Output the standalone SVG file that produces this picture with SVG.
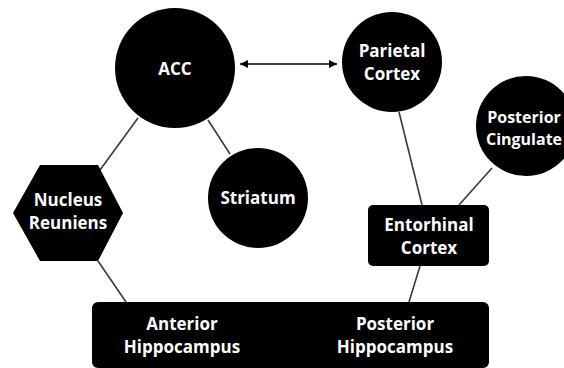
<svg xmlns="http://www.w3.org/2000/svg" width="564" height="368" viewBox="0 0 564 368">
<defs>
<marker id="ah" viewBox="0 0 10 10" refX="10" refY="5" markerWidth="8" markerHeight="8" markerUnits="userSpaceOnUse" orient="auto-start-reverse"><path d="M0,0 L10,5 L0,10 z" fill="#000"/></marker>
</defs>
<style>
.n{fill:#000}
.t{fill:#fff;font-family:"Open Sans","Liberation Sans",sans-serif;font-weight:bold;font-size:17px;text-anchor:middle}
.c{stroke:#3a3a3a;stroke-width:1.6;fill:none}
</style>
<rect width="564" height="368" fill="#fff"/>
<g id="connectors">
<line class="c" x1="138" y1="118" x2="100" y2="170"/>
<line class="c" x1="208" y1="120" x2="230" y2="154"/>
<line class="c" x1="98" y1="261" x2="126" y2="302"/>
<line class="c" x1="399" y1="112" x2="422" y2="205"/>
<line class="c" x1="492" y1="168" x2="459" y2="205"/>
<line class="c" x1="420" y1="266" x2="409" y2="302"/>
<line x1="240" y1="64" x2="337" y2="64" stroke="#000" stroke-width="1.5" marker-start="url(#ah)" marker-end="url(#ah)"/>
</g>
<g id="acc"><circle class="n" cx="175" cy="68" r="60"/><text class="t" x="175" y="75">ACC</text></g>
<g id="parietal"><circle class="n" cx="392" cy="62" r="50"/><text class="t" x="392" y="57">Parietal</text><text class="t" x="392" y="80">Cortex</text></g>
<g id="posterior-cingulate"><circle class="n" cx="526" cy="126" r="50"/><text class="t" x="524" y="123" style="font-size:16px">Posterior</text><text class="t" x="524" y="145" style="font-size:16px">Cingulate</text></g>
<g id="striatum"><circle class="n" cx="258" cy="198" r="50"/><text class="t" x="258" y="204">Striatum</text></g>
<g id="nucleus-reuniens"><polygon class="n" points="13,213 40,165 98,165 123,213 98,261 40,261"/><text class="t" x="68" y="206">Nucleus</text><text class="t" x="68" y="229">Reuniens</text></g>
<g id="entorhinal"><rect class="n" x="368" y="205" width="121" height="61" rx="5"/><text class="t" x="429" y="231">Entorhinal</text><text class="t" x="429" y="254">Cortex</text></g>
<g id="hippocampus"><rect class="n" x="92" y="302" width="397" height="66" rx="6"/><text class="t" x="182" y="330">Anterior</text><text class="t" x="182" y="353">Hippocampus</text><text class="t" x="395" y="330">Posterior</text><text class="t" x="395" y="353">Hippocampus</text></g>
</svg>
